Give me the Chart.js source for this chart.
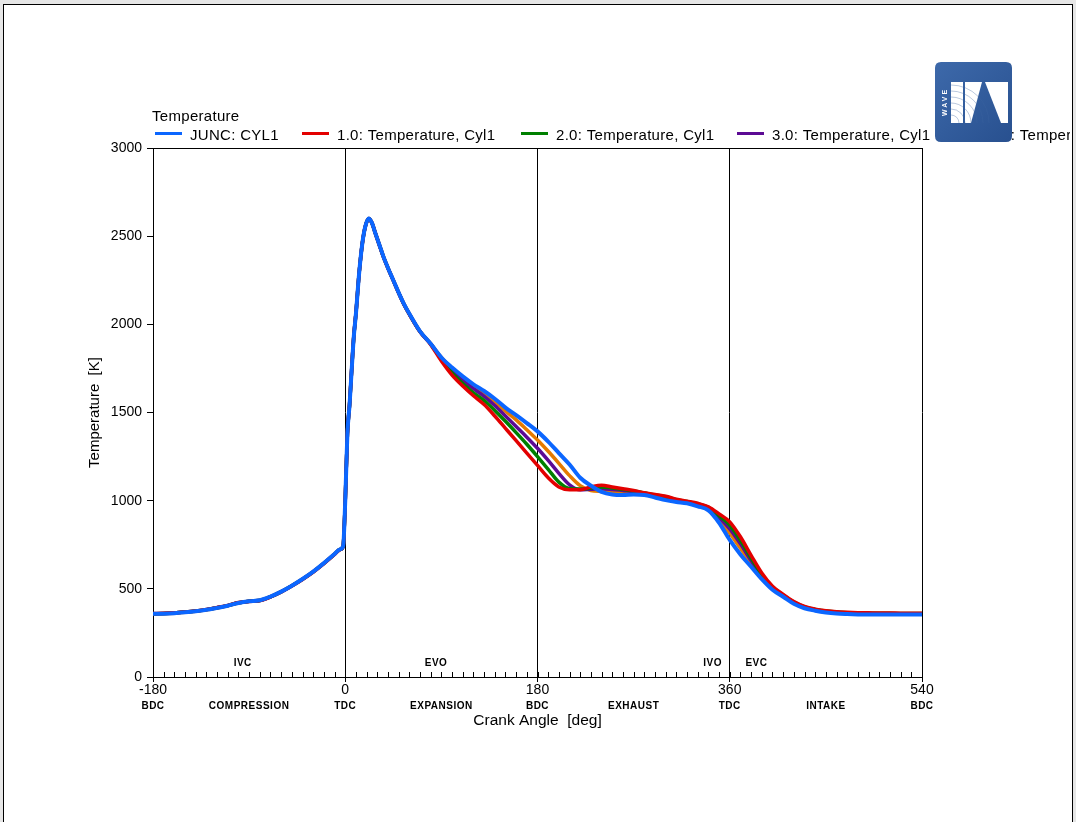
<!DOCTYPE html>
<html>
<head>
<meta charset="utf-8">
<title>Temperature</title>
<script src="https://cdn.jsdelivr.net/npm/chart.js@4.4.1/dist/chart.umd.min.js"></script>
<style>
  html, body { margin: 0; padding: 0; background: #e6e6e6; overflow: hidden; }
  #frame { position: absolute; left: 3px; top: 4px; width: 1068px; height: 840px; background: #fff; border: 1px solid #000; }
  #wrap { position: absolute; left: 0; top: 0; width: 1076px; height: 822px; }
</style>
</head>
<body>
<div id="frame"></div>
<div id="wrap"><canvas id="tempChart"></canvas></div>
<script>
// crank angle samples [deg]
const crankAngle = [
    -180, -170, -160, -150, -140, -130, -120, -110, -100, -90, -80, -70, -60, -50, -40, -30, -20, -10, -5, -2,
    0, 2, 4, 6, 8, 10, 13, 16, 19, 22, 25, 28, 32, 36, 40, 45, 50, 55, 60, 70,
    80, 90, 100, 110, 120, 130, 140, 150, 160, 170, 180, 190, 200, 210, 220, 230, 240, 250, 260, 270,
    280, 290, 300, 310, 320, 330, 340, 350, 360, 370, 380, 390, 400, 410, 420, 430, 440, 450, 460, 470,
    480, 490, 500, 510, 520, 530, 540
];

// temperatures [K]
const tempJunc = [
    358, 359, 362, 367, 373, 381, 392, 404, 420, 430, 435, 456, 484, 518, 556, 598, 646, 698, 724, 742,
    1000, 1380, 1540, 1740, 1930, 2060, 2290, 2460, 2560, 2600, 2575, 2520, 2450, 2380, 2320, 2250, 2180, 2115, 2060, 1960,
    1890, 1812, 1755, 1705, 1660, 1622, 1578, 1528, 1485, 1440, 1393, 1335, 1270, 1205, 1130, 1085, 1050, 1035, 1032, 1035,
    1032, 1018, 1003, 993, 985, 968, 945, 875, 777, 695, 625, 555, 495, 455, 415, 390, 376, 366, 360, 357,
    355, 354, 354, 354, 354, 354, 354
];
const tempRun1 = [
    360, 361, 364, 369, 375, 383, 394, 406, 422, 428, 433, 454, 482, 516, 553, 595, 643, 695, 722, 740,
    1000, 1380, 1545, 1745, 1935, 2065, 2290, 2460, 2560, 2598, 2575, 2520, 2448, 2378, 2318, 2248, 2178, 2112, 2056, 1958,
    1885, 1792, 1712, 1650, 1595, 1545, 1480, 1410, 1340, 1270, 1200, 1130, 1078, 1062, 1062, 1078, 1088, 1078, 1068, 1058,
    1045, 1035, 1025, 1008, 997, 985, 965, 925, 880, 795, 690, 590, 515, 468, 428, 400, 385, 376, 370, 367,
    365, 364, 363, 363, 362, 362, 362
];
const tempRun2 = [
    359, 360, 363, 368, 374, 382, 393, 405, 421, 429, 434, 455, 483, 517, 554, 596, 644, 696, 723, 741,
    1000, 1380, 1542, 1742, 1932, 2062, 2290, 2460, 2560, 2599, 2575, 2520, 2449, 2379, 2319, 2249, 2179, 2113, 2058, 1959,
    1888, 1800, 1725, 1665, 1612, 1568, 1512, 1450, 1386, 1320, 1250, 1178, 1105, 1068, 1066, 1072, 1078, 1072, 1064, 1055,
    1044, 1033, 1022, 1005, 995, 982, 962, 915, 862, 775, 675, 580, 510, 465, 425, 398, 383, 374, 368, 365,
    363, 362, 361, 361, 360, 360, 360
];
const tempRun3 = [
    359, 360, 363, 368, 374, 382, 393, 405, 421, 429, 434, 455, 483, 517, 555, 597, 645, 697, 723, 741,
    1000, 1380, 1541, 1741, 1931, 2061, 2290, 2460, 2560, 2600, 2575, 2520, 2449, 2379, 2319, 2249, 2179, 2114, 2059, 1959,
    1889, 1806, 1738, 1682, 1635, 1592, 1540, 1480, 1420, 1360, 1297, 1228, 1155, 1090, 1062, 1065, 1068, 1064, 1058, 1052,
    1042, 1030, 1018, 1002, 992, 978, 958, 905, 840, 755, 660, 572, 505, 462, 422, 396, 381, 372, 366, 363,
    361, 360, 359, 359, 359, 359, 359
];
const tempRun4 = [
    358, 359, 362, 367, 373, 381, 392, 404, 420, 430, 435, 456, 484, 518, 556, 598, 646, 698, 724, 742,
    1000, 1380, 1540, 1740, 1930, 2060, 2290, 2460, 2560, 2600, 2575, 2520, 2450, 2380, 2320, 2250, 2180, 2115, 2060, 1960,
    1890, 1812, 1746, 1695, 1652, 1610, 1562, 1507, 1458, 1402, 1344, 1280, 1212, 1142, 1085, 1058, 1052, 1048, 1045, 1045,
    1038, 1025, 1010, 998, 988, 973, 953, 893, 815, 730, 645, 565, 500, 460, 420, 394, 379, 370, 364, 361,
    359, 358, 357, 357, 357, 357, 357
];

const seriesLabels = ['JUNC: CYL1', '1.0: Temperature, Cyl1', '2.0: Temperature, Cyl1', '3.0: Temperature, Cyl1', '4.0: Temperature, Cyl1'];
const seriesColors = ['#0b66ff', '#e30000', '#008000', '#5c0a94', '#e57a00'];
const seriesValues = [tempJunc, tempRun1, tempRun2, tempRun3, tempRun4];

const xTickValues = [-180, 0, 180, 360, 540];
const deadCentreLabels = ['BDC', 'TDC', 'BDC', 'TDC', 'BDC'];
const strokeNames = ['COMPRESSION', 'EXPANSION', 'EXHAUST', 'INTAKE'];
const strokeCentres = [-90, 90, 270, 450];
const valveEvents = ['IVC', 'EVO', 'IVO', 'EVC'];
const valveEventAngles = [-96, 85, 344, 385];
const minorTickStep = 10;
const legendTitle = 'Temperature';

const FONT = '"Liberation Sans", Arial, Helvetica, sans-serif';

function roundRectPath(ctx, x, y, w, h, r) {
    ctx.beginPath();
    ctx.moveTo(x + r, y);
    ctx.lineTo(x + w - r, y);
    ctx.quadraticCurveTo(x + w, y, x + w, y + r);
    ctx.lineTo(x + w, y + h - r);
    ctx.quadraticCurveTo(x + w, y + h, x + w - r, y + h);
    ctx.lineTo(x + r, y + h);
    ctx.quadraticCurveTo(x, y + h, x, y + h - r);
    ctx.lineTo(x, y + r);
    ctx.quadraticCurveTo(x, y, x + r, y);
    ctx.closePath();
}

// box, minor ticks, stroke names and valve events
const axisDecor = {
    id: 'axisDecor',
    afterDraw(chart) {
        const ctx = chart.ctx;
        const area = chart.chartArea;
        const xs = chart.scales.x;
        ctx.save();
        ctx.strokeStyle = '#000';
        ctx.lineWidth = 1;
        ctx.beginPath();
        ctx.moveTo(area.left, area.top + 0.5);
        ctx.lineTo(area.right, area.top + 0.5);
        ctx.stroke();

        ctx.beginPath();
        for (let a = xs.min; a <= xs.max; a += minorTickStep) {
            const px = Math.round(xs.getPixelForValue(a)) + 0.5;
            ctx.moveTo(px, area.bottom);
            ctx.lineTo(px, area.bottom - 5);
        }
        ctx.stroke();

        ctx.fillStyle = '#000';
        ctx.textAlign = 'center';
        ctx.textBaseline = 'middle';
        ctx.font = 'bold 10px ' + FONT;
        ctx.letterSpacing = '0.5px';
        xTickValues.forEach((v, i) => {
            ctx.fillText(deadCentreLabels[i], xs.getPixelForValue(v), 706);
        });
        strokeCentres.forEach((v, i) => {
            ctx.fillText(strokeNames[i], xs.getPixelForValue(v), 706);
        });
        valveEventAngles.forEach((v, i) => {
            ctx.fillText(valveEvents[i], xs.getPixelForValue(v), 663);
        });
        ctx.restore();
    }
};

// one-line legend that runs off the page, then the logo on top
const legendAndLogo = {
    id: 'legendAndLogo',
    afterDraw(chart) {
        const ctx = chart.ctx;
        const entryX = [155, 302, 521, 737, 954];
        ctx.save();
        ctx.beginPath();
        ctx.rect(0, 0, 1070, 822);
        ctx.clip();
        ctx.font = '15px ' + FONT;
        ctx.letterSpacing = '0.3px';
        ctx.fillStyle = '#000';
        ctx.textBaseline = 'alphabetic';
        ctx.fillText(legendTitle, chart.chartArea.left - 1, 121);
        chart.data.datasets.forEach((ds, i) => {
            const x = entryX[i];
            ctx.strokeStyle = ds.borderColor;
            ctx.lineWidth = 3;
            ctx.beginPath();
            ctx.moveTo(x, 133.5);
            ctx.lineTo(x + 27, 133.5);
            ctx.stroke();
            ctx.fillText(ds.label, x + 35, 139.5);
        });
        ctx.restore();

        // WAVE logo
        const lx = 935, ly = 62, lw = 77, lh = 80;
        ctx.save();
        const g = ctx.createLinearGradient(lx, ly, lx + lw, ly + lh);
        g.addColorStop(0, '#3d69aa');
        g.addColorStop(1, '#28508f');
        ctx.fillStyle = g;
        roundRectPath(ctx, lx, ly, lw, lh, 6);
        ctx.fill();

        ctx.fillStyle = '#ffffff';
        ctx.fillRect(lx + 16, ly + 20, 12, 41);
        ctx.beginPath();
        ctx.moveTo(lx + 30, ly + 20);
        ctx.lineTo(lx + 47, ly + 20);
        ctx.lineTo(lx + 36, ly + 61);
        ctx.lineTo(lx + 30, ly + 61);
        ctx.closePath();
        ctx.fill();
        ctx.beginPath();
        ctx.moveTo(lx + 50, ly + 20);
        ctx.lineTo(lx + 73, ly + 20);
        ctx.lineTo(lx + 73, ly + 61);
        ctx.lineTo(lx + 66, ly + 61);
        ctx.closePath();
        ctx.fill();

        ctx.strokeStyle = 'rgba(60,100,160,0.35)';
        ctx.lineWidth = 1;
        for (let r = 8; r <= 40; r += 6) {
            ctx.beginPath();
            ctx.arc(lx + 16, ly + 61, r, -Math.PI / 2, 0);
            ctx.stroke();
        }

        ctx.translate(lx + 10, ly + 40);
        ctx.rotate(-Math.PI / 2);
        ctx.font = 'bold 7px ' + FONT;
        ctx.letterSpacing = '2px';
        ctx.textAlign = 'center';
        ctx.textBaseline = 'middle';
        ctx.fillStyle = '#ffffff';
        ctx.fillText('WAVE', 0, 0);
        ctx.restore();
    }
};

const datasets = seriesValues.map((values, i) => ({
    label: seriesLabels[i],
    data: crankAngle.map((a, k) => ({ x: a, y: values[k] })),
    borderColor: seriesColors[i],
    backgroundColor: seriesColors[i],
    borderWidth: i === 0 ? 4 : 3.5,
    pointRadius: 0,
    cubicInterpolationMode: 'monotone',
    borderJoinStyle: 'round'
}));

const ctx = document.getElementById('tempChart').getContext('2d');
const tempChart = new Chart(ctx, {
    type: 'line',
    data: { datasets: datasets },
    options: {
        responsive: true,
        maintainAspectRatio: false,
        animation: false,
        layout: { padding: { left: 0, top: 148, right: 154, bottom: 90 } },
        plugins: {
            legend: { display: false },
            tooltip: { enabled: false }
        },
        scales: {
            x: {
                type: 'linear',
                min: -180,
                max: 540,
                afterFit: s => { s.height = 55; },
                ticks: {
                    stepSize: 180,
                    color: '#000',
                    padding: 0,
                    maxRotation: 0,
                    callback: v => String(v),
                    font: { family: FONT, size: 14 }
                },
                grid: {
                    color: '#000',
                    lineWidth: 1,
                    drawTicks: true,
                    tickLength: 5,
                    tickColor: '#000'
                },
                border: { display: true, color: '#000', width: 1 },
                title: {
                    display: true,
                    text: 'Crank Angle  [deg]',
                    color: '#000',
                    font: { family: FONT, size: 15.5 },
                    padding: { top: 0, bottom: 2 }
                }
            },
            y: {
                min: 0,
                max: 3000,
                afterFit: s => { s.width = 153; },
                ticks: {
                    stepSize: 500,
                    color: '#000',
                    padding: 5,
                    callback: v => String(v),
                    font: { family: FONT, size: 14 }
                },
                grid: {
                    drawOnChartArea: false,
                    drawTicks: true,
                    tickLength: 6,
                    tickColor: '#000'
                },
                border: { display: true, color: '#000', width: 1 },
                title: {
                    display: true,
                    text: 'Temperature  [K]',
                    color: '#000',
                    font: { family: FONT, size: 15 },
                    padding: { top: 86, bottom: 0 }
                }
            }
        }
    },
    plugins: [axisDecor, legendAndLogo]
});
</script>
</body>
</html>
